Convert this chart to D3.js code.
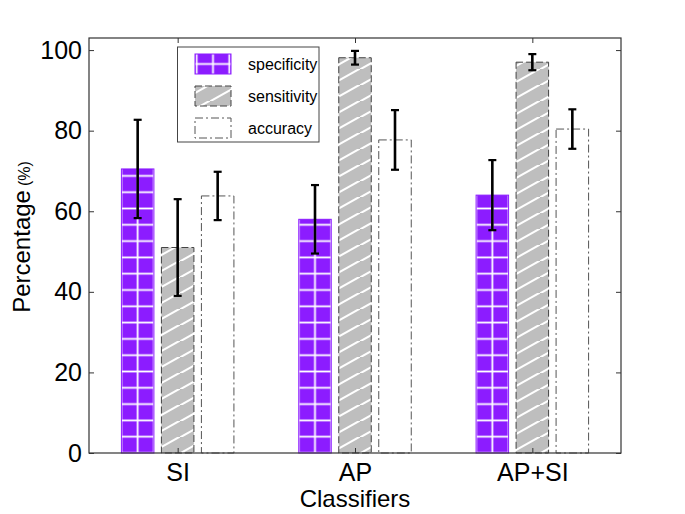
<!DOCTYPE html>
<html><head><meta charset="utf-8">
<script src="https://cdn.jsdelivr.net/npm/d3@7"></script>
<style>body{margin:0;background:#fff}svg{display:block}text{font-family:"Liberation Sans",Arial,sans-serif}</style>
</head><body>
<script>
const categories = ["SI", "AP", "AP+SI"];
const seriesNames = ["specificity", "sensitivity", "accuracy"];
const specificity = [70.5, 58.0, 64.0];
const specificityErr = [12.2, 8.5, 8.7];
const sensitivity = [51.0, 98.1, 97.0];
const sensitivityErr = [12.0, 1.7, 2.0];
const accuracy = [63.8, 77.7, 80.4];
const accuracyErr = [6.0, 7.4, 4.9];
const yTicks = [0, 20, 40, 60, 80, 100];

const W = 685, H = 514;
const M = {left: 89, right: 64, top: 38, bottom: 61};
const svg = d3.select("body").append("svg").attr("width", W).attr("height", H);
const defs = svg.append("defs");

const x0 = d3.scaleLinear().domain([0.5, 3.5]).range([M.left, W - M.right]);
const y = d3.scaleLinear().domain([0, 103]).range([H - M.bottom, M.top]);
const y0 = y(0);

const offs = [-40, 0, 40];
const bw = 32.5;
const cell = 16.3;

function gridPattern(id, cx, cy) {
  const h = cell / 2;
  const p = defs.append("pattern").attr("id", id).attr("patternUnits", "userSpaceOnUse")
    .attr("width", cell).attr("height", cell).attr("x", cx - h).attr("y", cy - h);
  p.append("rect").attr("width", cell).attr("height", cell).attr("fill", "#8c1cff");
  p.append("line").attr("x1", h).attr("x2", h).attr("y1", 0).attr("y2", cell).attr("stroke", "#fff").attr("stroke-width", 1.8);
  p.append("line").attr("x1", 0).attr("x2", cell).attr("y1", h).attr("y2", h).attr("stroke", "#fff").attr("stroke-width", 1.8);
}
categories.forEach((c, i) => gridPattern("grid" + i, x0(i + 1) + offs[0], y0));
gridPattern("gridL", 213, 64);

const p2 = defs.append("pattern").attr("id", "diag").attr("patternUnits", "userSpaceOnUse")
  .attr("width", 30).attr("height", 16).attr("x", 0).attr("y", y0);
p2.append("rect").attr("width", 30).attr("height", 16).attr("fill", "#bebebe");
p2.append("line").attr("x1", -1).attr("y1", 17).attr("x2", 31).attr("y2", -1).attr("stroke", "#fff").attr("stroke-width", 2);

const fills = [(i) => `url(#grid${i})`, () => "url(#diag)", () => "#ffffff"];
const strokes = ["#8c1cff", "#444", "#555"];
const dashes = [null, "7,3", "8,3,2,3"];
const vals = [specificity, sensitivity, accuracy];
const errs = [specificityErr, sensitivityErr, accuracyErr];

const g = svg.append("g");
seriesNames.forEach((s, si) => {
  g.selectAll(".b" + si).data(categories).enter().append("rect")
    .attr("x", (d, i) => x0(i + 1) + offs[si] - bw / 2)
    .attr("y", (d, i) => y(vals[si][i]))
    .attr("width", bw)
    .attr("height", (d, i) => y0 - y(vals[si][i]))
    .attr("fill", (d, i) => fills[si](i))
    .attr("stroke", strokes[si]).attr("stroke-width", 1)
    .attr("stroke-dasharray", dashes[si]);
});
// error bars
seriesNames.forEach((s, si) => {
  categories.forEach((c, i) => {
    const cx = x0(i + 1) + offs[si];
    const hi = y(vals[si][i] + errs[si][i]), lo = y(vals[si][i] - errs[si][i]);
    g.append("line").attr("x1", cx).attr("x2", cx).attr("y1", hi).attr("y2", lo)
      .attr("stroke", "#000").attr("stroke-width", 2.6);
    [hi, lo].forEach(yy => g.append("line").attr("x1", cx - 4).attr("x2", cx + 4)
      .attr("y1", yy).attr("y2", yy).attr("stroke", "#000").attr("stroke-width", 2.2));
  });
});

// frame
const axC = "#333";
svg.append("rect").attr("x", M.left).attr("y", M.top).attr("width", W - M.left - M.right)
  .attr("height", H - M.top - M.bottom).attr("fill", "none").attr("stroke", axC).attr("stroke-width", 1.2);

// y axis
const yAxis = svg.append("g").attr("transform", `translate(${M.left},0)`)
  .call(d3.axisLeft(y).tickValues(yTicks).tickSize(-5).tickPadding(7));
yAxis.select(".domain").remove();
yAxis.selectAll("line").attr("stroke", axC);
yAxis.selectAll("text").attr("font-size", 25).attr("fill", "#000");
const yAxisR = svg.append("g").attr("transform", `translate(${W - M.right},0)`)
  .call(d3.axisRight(y).tickValues(yTicks).tickSize(-5).tickFormat(""));
yAxisR.select(".domain").remove();
yAxisR.selectAll("line").attr("stroke", axC);

// x axis
const xAxis = svg.append("g").attr("transform", `translate(0,${y0})`)
  .call(d3.axisBottom(x0).tickValues([1, 2, 3]).tickSize(-5).tickPadding(10).tickFormat((d) => categories[d - 1]));
xAxis.select(".domain").remove();
xAxis.selectAll("line").attr("stroke", axC);
xAxis.selectAll("text").attr("font-size", 25).attr("fill", "#000");
const xAxisT = svg.append("g").attr("transform", `translate(0,${M.top})`)
  .call(d3.axisTop(x0).tickValues([1, 2, 3]).tickSize(-5).tickFormat(""));
xAxisT.select(".domain").remove();
xAxisT.selectAll("line").attr("stroke", axC);

// axis labels
svg.append("text").attr("x", x0(2)).attr("y", 507).attr("text-anchor", "middle")
  .attr("font-size", 24).text("Classifiers");
const yl = svg.append("text").attr("transform", "translate(30,237) rotate(-90)").attr("text-anchor", "middle");
yl.append("tspan").attr("font-size", 24).text("Percentage");
yl.append("tspan").attr("font-size", 16).attr("dx", 4).text("(%)");

// legend
const lg = svg.append("g");
lg.append("rect").attr("x", 177.5).attr("y", 47).attr("width", 141.5).attr("height", 95)
  .attr("fill", "#fff").attr("stroke", "#444").attr("stroke-width", 1);
const legendFill = ["url(#gridL)", "url(#diag)", "#ffffff"];
seriesNames.forEach((s, si) => {
  const yy = 54 + si * 32;
  lg.append("rect").attr("x", 195).attr("y", yy).attr("width", 36).attr("height", 20)
    .attr("fill", legendFill[si]).attr("stroke", strokes[si]).attr("stroke-dasharray", dashes[si]);
  lg.append("text").attr("x", 248).attr("y", yy + 15.5).attr("font-size", 16).text(s);
});
</script>
</body></html>
